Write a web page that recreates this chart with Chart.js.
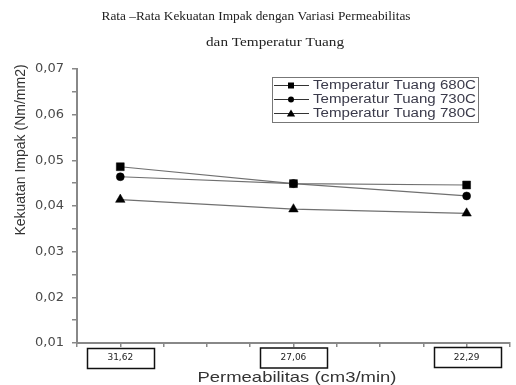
<!DOCTYPE html>
<html><head><meta charset="utf-8">
<script src="https://cdn.jsdelivr.net/npm/chart.js@4"></script>
<style>html,body{margin:0;padding:0;background:#fff}#wrap{width:516px;height:385px}</style>
</head><body><div id="wrap"><canvas id="c" width="516" height="385"></canvas></div>
<script>
const categories = ['31,62', '27,06', '22,29'];
const seriesNames = ['Temperatur Tuang 680C', 'Temperatur Tuang 730C', 'Temperatur Tuang 780C'];
const s680 = [0.0486, 0.0449, 0.0446];
const s730 = [0.0464, 0.0449, 0.0422];
const s780 = [0.0414, 0.0393, 0.0384];
const titleLines = ['Rata \u2013Rata Kekuatan Impak dengan Variasi Permeabilitas', 'dan Temperatur Tuang'];
const xTitle = 'Permeabilitas (cm3/min)';
const yTitle = 'Kekuatan Impak (Nm/mm2)';

const styles = ['rect', 'circle', 'triangle'];
const radii = [5.6, 4, 5.5];
const all = [s680, s730, s780];
const datasets = all.map((arr, k) => ({
  label: seriesNames[k],
  data: arr.map((v, i) => ({x: i, y: v})),
  borderColor: '#707070',
  borderWidth: 1.2,
  pointStyle: styles[k],
  pointRadius: radii[k],
  pointBackgroundColor: '#000',
  pointBorderColor: '#000',
  pointBorderWidth: 0.5,
  fill: false,
  tension: 0
}));

function drawMarker(ctx, style, x, y, r) {
  ctx.fillStyle = '#000';
  ctx.beginPath();
  if (style === 'rect') { ctx.rect(x - r, y - r, 2 * r, 2 * r); }
  else if (style === 'circle') { ctx.arc(x, y, r, 0, Math.PI * 2); }
  else { ctx.moveTo(x, y - r * 1.1); ctx.lineTo(x + r * 1.15, y + r * 0.8); ctx.lineTo(x - r * 1.15, y + r * 0.8); ctx.closePath(); }
  ctx.fill();
}

// draw text fitted to a given width (horizontally stretched like the reference)
function fitText(ctx, text, cx, cy, width, align) {
  const w = ctx.measureText(text).width;
  const sx = width / w;
  ctx.save();
  ctx.translate(cx, cy);
  ctx.scale(sx, 1);
  ctx.textAlign = align || 'center';
  ctx.fillText(text, 0, 0);
  ctx.restore();
}

const deco = {
  id: 'deco',
  afterDraw(chart) {
    const ctx = chart.ctx;
    const xs = chart.scales.x;
    ctx.save();
    ctx.textBaseline = 'middle';
    // titles
    ctx.fillStyle = '#222';
    ctx.font = '13px "Liberation Serif", "Times New Roman", serif';
    fitText(ctx, titleLines[0], 256, 17, 309);
    fitText(ctx, titleLines[1], 275, 43, 138);
    // axis titles
    ctx.fillStyle = '#333';
    ctx.font = '15px "Liberation Sans", Arial, sans-serif';
    fitText(ctx, xTitle, 297, 378, 199);
    ctx.save();
    ctx.translate(21, 150);
    ctx.rotate(-Math.PI / 2);
    ctx.textAlign = 'center';
    ctx.font = '14px "Liberation Sans", Arial, sans-serif';
    ctx.fillText(yTitle, 0, 0);
    ctx.restore();
    // boxes around x labels
    ctx.strokeStyle = '#111';
    ctx.lineWidth = 1.5;
    categories.forEach((c, i) => {
      const px = xs.getPixelForValue(i);
      ctx.strokeRect(Math.round(px - 33) + 0.5, 348.5 - i * 0.5, 67, 20);
    });
    // legend
    ctx.strokeStyle = '#777';
    ctx.lineWidth = 1;
    ctx.strokeRect(272.5, 77.5, 206, 45);
    ctx.font = '12px "Liberation Sans", Arial, sans-serif';
    chart.data.datasets.forEach((ds, k) => {
      const y = 85 + k * 14;
      ctx.strokeStyle = '#333';
      ctx.lineWidth = 1;
      ctx.beginPath(); ctx.moveTo(274, y + 0.5); ctx.lineTo(309, y + 0.5); ctx.stroke();
      drawMarker(ctx, ds.pointStyle, 291, y + 0.5, k === 2 ? 3.6 : 3);
      ctx.fillStyle = '#3a3a4a';
      fitText(ctx, ds.label, 313, y + 1, 163, 'left');
    });
    ctx.restore();
  }
};

new Chart(document.getElementById('c'), {
  type: 'line',
  data: {datasets},
  options: {
    responsive: false,
    animation: false,
    layout: {padding: {left: 0, right: 0, top: 69, bottom: 0}},
    plugins: {legend: {display: false}, title: {display: false}, tooltip: {enabled: false}},
    scales: {
      x: {
        type: 'linear', min: -0.25, max: 2.25,
        afterFit(s) { s.height = 42; },
        ticks: {
          stepSize: 0.25, autoSkip: false, maxRotation: 0, padding: 5,
          color: '#222', font: {family: '"DejaVu Sans", sans-serif', size: 9},
          callback(v) { return Number.isInteger(v) ? categories[v] : ''; }
        },
        grid: {drawOnChartArea: false, drawTicks: true, tickLength: 4, color: '#888', lineWidth: 1.5},
        border: {display: true, color: '#888', width: 2}
      },
      y: {
        min: 0.01, max: 0.07,
        afterFit(s) { s.width = 77; },
        ticks: {
          stepSize: 0.005, autoSkip: false, padding: 8,
          color: '#4a4a4a', font: {family: '"DejaVu Sans", sans-serif', size: 13},
          callback(v) {
            const r = Math.round(v * 100);
            return Math.abs(v * 100 - r) < 1e-6 ? (r / 100).toFixed(2).replace('.', ',') : '';
          }
        },
        grid: {drawOnChartArea: false, drawTicks: true, tickLength: 5, color: '#888', lineWidth: 1.5},
        border: {display: true, color: '#888', width: 2}
      }
    }
  },
  plugins: [deco]
});
</script></body></html>
